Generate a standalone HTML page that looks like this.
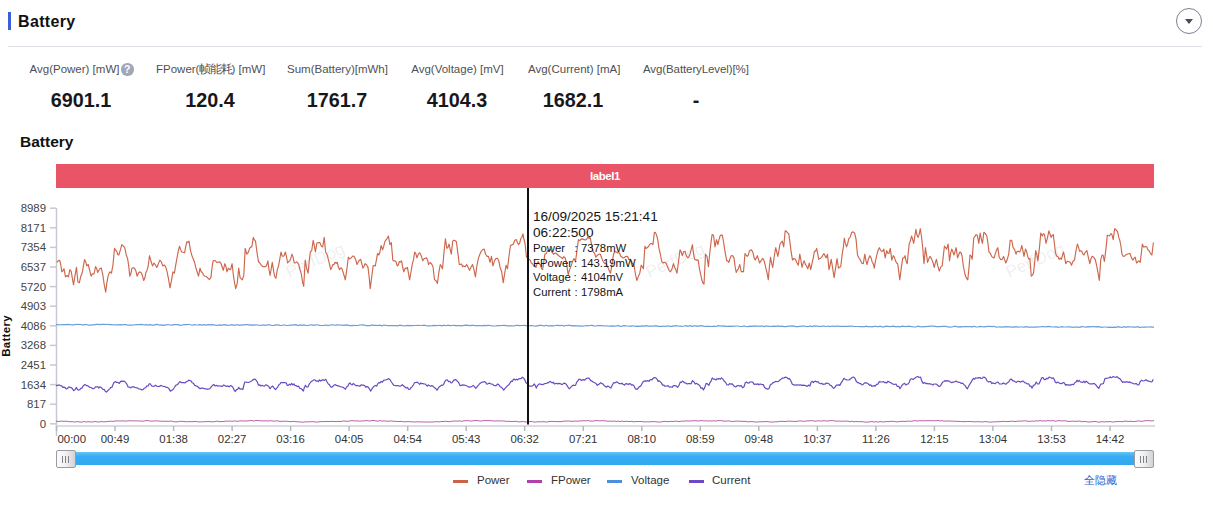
<!DOCTYPE html>
<html><head><meta charset="utf-8">
<style>
html,body{margin:0;padding:0;background:#fff;width:1213px;height:513px;overflow:hidden;position:relative;font-family:"Liberation Sans",sans-serif;}
.a{position:absolute;white-space:nowrap;}
.bar{left:8px;top:12px;width:3px;height:18px;background:#3a60d8;}
.t1{left:18px;top:12px;font-size:16px;font-weight:bold;color:#111114;line-height:20px;letter-spacing:0.35px;}
.hr{left:8px;top:46px;width:1194px;height:1px;background:#dfe0e8;}
.circ{left:1176px;top:8px;width:24px;height:24px;border:1px solid #7e8092;border-radius:50%;}
.tri{left:1185px;top:19px;width:0;height:0;border-left:4px solid transparent;border-right:4px solid transparent;border-top:5px solid #4a4b5c;}
.lab{top:62px;font-size:11.5px;color:#505053;line-height:14px;text-align:center;}
.val{top:88.5px;font-size:19.8px;font-weight:bold;color:#18181c;line-height:22px;text-align:center;}
.q{left:121px;top:63.3px;width:12.5px;height:12.5px;border-radius:50%;background:#a3a7b5;color:#fff;font-size:10.5px;font-weight:bold;line-height:12.5px;text-align:center;}
.t2{left:20px;top:132.5px;font-size:15.5px;font-weight:bold;color:#111;line-height:18px;letter-spacing:0px;}
.red{left:56px;top:164px;width:1098px;height:24px;background:#e95466;color:#fff;font-size:11.5px;font-weight:bold;letter-spacing:-0.45px;text-align:center;line-height:24px;}
svg{position:absolute;left:0;top:0;}
.yl{font-size:11.4px;fill:#444;}
.xl{font-size:11.4px;fill:#333;}
.wm{font-size:17px;fill:#000;fill-opacity:0.085;}
.tt{left:533px;color:#151515;}
.ttb{font-size:13.6px;line-height:16px;}
.tts{font-size:11.3px;line-height:14.8px;color:#151515;}
.sl{left:56px;top:452px;width:1098px;height:13px;background:linear-gradient(#66c3f6,#38acf2 35%,#30a8f0);}
.hd{top:450px;width:18px;height:16px;border:1px solid #9a9ca3;border-radius:2px;background:linear-gradient(90deg,#fbfbfb,#f2f2f2 45%,#d3d3d6);box-sizing:content-box;}
.hd i{position:absolute;top:4.5px;width:1.4px;height:7px;background:#80828a;}
.leg{top:473px;font-size:11.5px;color:#333;line-height:14px;}
.sw{top:479.5px;width:15px;height:3.5px;}
.hide{left:1084px;top:473px;font-size:11px;color:#2f60cc;line-height:14px;}
</style></head><body>
<div class="a bar"></div>
<div class="a t1">Battery</div>
<div class="a hr"></div>
<div class="a circ"></div>
<div class="a tri"></div>

<div class="a lab" style="left:29px;width:91px">Avg(Power) [mW]</div>
<div class="a q">?</div>
<div class="a lab" style="left:156px;width:107px">FPower(<span style="letter-spacing:-1.3px">帧能耗</span>) [mW]</div>
<div class="a lab" style="left:287px;width:100px">Sum(Battery)[mWh]</div>
<div class="a lab" style="left:411px;width:93px">Avg(Voltage) [mV]</div>
<div class="a lab" style="left:528px;width:92px">Avg(Current) [mA]</div>
<div class="a lab" style="left:643px;width:105px;letter-spacing:-0.1px">Avg(BatteryLevel)[%]</div>

<div class="a val" style="left:31px;width:100px">6901.1</div>
<div class="a val" style="left:160px;width:100px">120.4</div>
<div class="a val" style="left:287px;width:100px">1761.7</div>
<div class="a val" style="left:407px;width:100px">4104.3</div>
<div class="a val" style="left:523px;width:100px">1682.1</div>
<div class="a val" style="left:646px;width:100px">-</div>

<div class="a t2">Battery</div>
<div class="a red">label1</div>

<svg width="1213" height="513">
<line x1="56.5" y1="208" x2="56.5" y2="436" stroke="#c6c9d2" stroke-width="1.5"/>
<line x1="50" y1="208.2" x2="56" y2="208.2" stroke="#c6c9d2" stroke-width="1.5"/>
<text x="46" y="212.2" text-anchor="end" class="yl">8989</text>
<line x1="50" y1="227.8" x2="56" y2="227.8" stroke="#c6c9d2" stroke-width="1.5"/>
<text x="46" y="231.8" text-anchor="end" class="yl">8171</text>
<line x1="50" y1="247.4" x2="56" y2="247.4" stroke="#c6c9d2" stroke-width="1.5"/>
<text x="46" y="251.4" text-anchor="end" class="yl">7354</text>
<line x1="50" y1="267.0" x2="56" y2="267.0" stroke="#c6c9d2" stroke-width="1.5"/>
<text x="46" y="271.0" text-anchor="end" class="yl">6537</text>
<line x1="50" y1="286.6" x2="56" y2="286.6" stroke="#c6c9d2" stroke-width="1.5"/>
<text x="46" y="290.6" text-anchor="end" class="yl">5720</text>
<line x1="50" y1="306.2" x2="56" y2="306.2" stroke="#c6c9d2" stroke-width="1.5"/>
<text x="46" y="310.2" text-anchor="end" class="yl">4903</text>
<line x1="50" y1="325.8" x2="56" y2="325.8" stroke="#c6c9d2" stroke-width="1.5"/>
<text x="46" y="329.8" text-anchor="end" class="yl">4086</text>
<line x1="50" y1="345.4" x2="56" y2="345.4" stroke="#c6c9d2" stroke-width="1.5"/>
<text x="46" y="349.4" text-anchor="end" class="yl">3268</text>
<line x1="50" y1="365.0" x2="56" y2="365.0" stroke="#c6c9d2" stroke-width="1.5"/>
<text x="46" y="369.0" text-anchor="end" class="yl">2451</text>
<line x1="50" y1="384.6" x2="56" y2="384.6" stroke="#c6c9d2" stroke-width="1.5"/>
<text x="46" y="388.6" text-anchor="end" class="yl">1634</text>
<line x1="50" y1="404.2" x2="56" y2="404.2" stroke="#c6c9d2" stroke-width="1.5"/>
<text x="46" y="408.2" text-anchor="end" class="yl">817</text>
<line x1="50" y1="423.8" x2="56" y2="423.8" stroke="#c6c9d2" stroke-width="1.5"/>
<text x="46" y="427.8" text-anchor="end" class="yl">0</text>
<line x1="56" y1="426" x2="1155" y2="426" stroke="#cfd2d8" stroke-width="1.6"/>
<line x1="56.5" y1="426" x2="56.5" y2="431" stroke="#b4b8c0" stroke-width="1.5"/>
<text x="57.5" y="443" class="xl">00:00</text>
<line x1="115.0" y1="426" x2="115.0" y2="431" stroke="#b4b8c0" stroke-width="1.5"/>
<text x="115.0" y="443" text-anchor="middle" class="xl">00:49</text>
<line x1="173.6" y1="426" x2="173.6" y2="431" stroke="#b4b8c0" stroke-width="1.5"/>
<text x="173.6" y="443" text-anchor="middle" class="xl">01:38</text>
<line x1="232.1" y1="426" x2="232.1" y2="431" stroke="#b4b8c0" stroke-width="1.5"/>
<text x="232.1" y="443" text-anchor="middle" class="xl">02:27</text>
<line x1="290.6" y1="426" x2="290.6" y2="431" stroke="#b4b8c0" stroke-width="1.5"/>
<text x="290.6" y="443" text-anchor="middle" class="xl">03:16</text>
<line x1="349.1" y1="426" x2="349.1" y2="431" stroke="#b4b8c0" stroke-width="1.5"/>
<text x="349.1" y="443" text-anchor="middle" class="xl">04:05</text>
<line x1="407.7" y1="426" x2="407.7" y2="431" stroke="#b4b8c0" stroke-width="1.5"/>
<text x="407.7" y="443" text-anchor="middle" class="xl">04:54</text>
<line x1="466.2" y1="426" x2="466.2" y2="431" stroke="#b4b8c0" stroke-width="1.5"/>
<text x="466.2" y="443" text-anchor="middle" class="xl">05:43</text>
<line x1="524.7" y1="426" x2="524.7" y2="431" stroke="#b4b8c0" stroke-width="1.5"/>
<text x="524.7" y="443" text-anchor="middle" class="xl">06:32</text>
<line x1="583.2" y1="426" x2="583.2" y2="431" stroke="#b4b8c0" stroke-width="1.5"/>
<text x="583.2" y="443" text-anchor="middle" class="xl">07:21</text>
<line x1="641.8" y1="426" x2="641.8" y2="431" stroke="#b4b8c0" stroke-width="1.5"/>
<text x="641.8" y="443" text-anchor="middle" class="xl">08:10</text>
<line x1="700.3" y1="426" x2="700.3" y2="431" stroke="#b4b8c0" stroke-width="1.5"/>
<text x="700.3" y="443" text-anchor="middle" class="xl">08:59</text>
<line x1="758.8" y1="426" x2="758.8" y2="431" stroke="#b4b8c0" stroke-width="1.5"/>
<text x="758.8" y="443" text-anchor="middle" class="xl">09:48</text>
<line x1="817.4" y1="426" x2="817.4" y2="431" stroke="#b4b8c0" stroke-width="1.5"/>
<text x="817.4" y="443" text-anchor="middle" class="xl">10:37</text>
<line x1="875.9" y1="426" x2="875.9" y2="431" stroke="#b4b8c0" stroke-width="1.5"/>
<text x="875.9" y="443" text-anchor="middle" class="xl">11:26</text>
<line x1="934.4" y1="426" x2="934.4" y2="431" stroke="#b4b8c0" stroke-width="1.5"/>
<text x="934.4" y="443" text-anchor="middle" class="xl">12:15</text>
<line x1="992.9" y1="426" x2="992.9" y2="431" stroke="#b4b8c0" stroke-width="1.5"/>
<text x="992.9" y="443" text-anchor="middle" class="xl">13:04</text>
<line x1="1051.5" y1="426" x2="1051.5" y2="431" stroke="#b4b8c0" stroke-width="1.5"/>
<text x="1051.5" y="443" text-anchor="middle" class="xl">13:53</text>
<line x1="1110.0" y1="426" x2="1110.0" y2="431" stroke="#b4b8c0" stroke-width="1.5"/>
<text x="1110.0" y="443" text-anchor="middle" class="xl">14:42</text>
<text x="315" y="266" text-anchor="middle" transform="rotate(-24 315 260)" class="wm">PerfDog</text>
<text x="675" y="266" text-anchor="middle" transform="rotate(-24 675 260)" class="wm">PerfDog</text>
<text x="1035" y="266" text-anchor="middle" transform="rotate(-24 1035 260)" class="wm">PerfDog</text>
<path d="M56.0,421.1 L58.0,421.5 L60.0,421.3 L62.0,421.1 L64.0,421.3 L66.0,421.2 L68.0,421.4 L70.0,421.8 L72.0,421.6 L74.0,422.0 L76.0,421.9 L78.0,421.5 L80.0,422.1 L82.0,422.1 L84.0,421.5 L86.0,422.1 L88.0,421.7 L90.0,421.8 L92.0,422.1 L94.0,421.5 L96.0,421.7 L98.0,422.0 L100.0,421.8 L102.0,421.6 L104.0,421.9 L106.0,421.7 L108.0,421.5 L110.0,421.1 L112.0,421.4 L114.0,421.2 L116.0,421.0 L118.0,420.8 L120.0,421.1 L122.0,420.8 L124.0,421.0 L126.0,421.1 L128.0,420.9 L130.0,420.7 L132.0,420.9 L134.0,420.8 L136.0,421.0 L138.0,420.8 L140.0,421.1 L142.0,421.1 L144.0,421.0 L146.0,420.6 L148.0,420.6 L150.0,421.1 L152.0,421.1 L154.0,421.0 L156.0,420.9 L158.0,420.9 L160.0,421.2 L162.0,421.2 L164.0,421.2 L166.0,421.3 L168.0,421.4 L170.0,421.1 L172.0,421.2 L174.0,421.8 L176.0,421.8 L178.0,421.8 L180.0,421.3 L182.0,421.3 L184.0,421.5 L186.0,421.7 L188.0,421.8 L190.0,421.5 L192.0,421.8 L194.0,421.5 L196.0,421.5 L198.0,421.9 L200.0,421.8 L202.0,421.9 L204.0,421.7 L206.0,421.7 L208.0,421.5 L210.0,421.6 L212.0,421.8 L214.0,421.8 L216.0,421.3 L218.0,421.2 L220.0,421.7 L222.0,421.5 L224.0,421.5 L226.0,421.1 L228.0,421.2 L230.0,421.0 L232.0,421.3 L234.0,421.0 L236.0,421.1 L238.0,421.3 L240.0,420.8 L242.0,420.9 L244.0,421.0 L246.0,421.1 L248.0,420.8 L250.0,420.7 L252.0,420.5 L254.0,421.1 L256.0,420.5 L258.0,420.5 L260.0,420.9 L262.0,420.8 L264.0,421.0 L266.0,420.8 L268.0,421.1 L270.0,420.7 L272.0,420.8 L274.0,421.2 L276.0,420.8 L278.0,421.0 L280.0,421.4 L282.0,421.4 L284.0,421.2 L286.0,421.2 L288.0,421.4 L290.0,421.7 L292.0,421.5 L294.0,421.3 L296.0,421.8 L298.0,421.7 L300.0,422.0 L302.0,422.1 L304.0,422.1 L306.0,421.7 L308.0,422.0 L310.0,421.7 L312.0,421.7 L314.0,421.7 L316.0,422.1 L318.0,422.0 L320.0,421.6 L322.0,421.6 L324.0,421.6 L326.0,421.5 L328.0,421.5 L330.0,421.5 L332.0,421.3 L334.0,421.5 L336.0,421.6 L338.0,421.3 L340.0,421.5 L342.0,421.3 L344.0,420.9 L346.0,421.3 L348.0,421.3 L350.0,420.9 L352.0,420.6 L354.0,420.9 L356.0,420.9 L358.0,420.9 L360.0,421.2 L362.0,420.9 L364.0,421.0 L366.0,420.5 L368.0,420.8 L370.0,421.0 L372.0,420.5 L374.0,420.5 L376.0,421.0 L378.0,421.2 L380.0,420.6 L382.0,421.1 L384.0,420.8 L386.0,421.2 L388.0,421.2 L390.0,421.0 L392.0,421.0 L394.0,421.4 L396.0,421.3 L398.0,421.6 L400.0,421.4 L402.0,421.4 L404.0,421.9 L406.0,421.7 L408.0,421.6 L410.0,421.7 L412.0,421.9 L414.0,421.9 L416.0,422.0 L418.0,421.7 L420.0,422.0 L422.0,421.9 L424.0,422.0 L426.0,422.0 L428.0,422.0 L430.0,422.0 L432.0,422.1 L434.0,421.8 L436.0,421.7 L438.0,421.8 L440.0,421.8 L442.0,421.5 L444.0,421.5 L446.0,421.2 L448.0,421.6 L450.0,421.7 L452.0,421.2 L454.0,421.0 L456.0,421.0 L458.0,421.1 L460.0,420.9 L462.0,421.4 L464.0,420.7 L466.0,420.8 L468.0,420.6 L470.0,421.0 L472.0,421.0 L474.0,420.6 L476.0,420.5 L478.0,420.8 L480.0,420.9 L482.0,421.1 L484.0,420.5 L486.0,420.6 L488.0,420.6 L490.0,420.7 L492.0,420.7 L494.0,421.1 L496.0,421.0 L498.0,420.8 L500.0,420.9 L502.0,421.0 L504.0,421.0 L506.0,421.4 L508.0,421.2 L510.0,421.4 L512.0,421.6 L514.0,421.4 L516.0,421.3 L518.0,421.8 L520.0,421.9 L522.0,421.5 L524.0,421.7 L526.0,422.0 L528.0,421.7 L530.0,421.6 L532.0,421.5 L534.0,422.1 L536.0,422.0 L538.0,421.7 L540.0,421.8 L542.0,421.8 L544.0,421.6 L546.0,422.1 L548.0,421.8 L550.0,421.5 L552.0,421.3 L554.0,421.6 L556.0,421.4 L558.0,421.7 L560.0,421.6 L562.0,421.5 L564.0,421.1 L566.0,421.0 L568.0,421.1 L570.0,421.0 L572.0,421.4 L574.0,421.1 L576.0,421.1 L578.0,421.3 L580.0,420.8 L582.0,420.9 L584.0,420.6 L586.0,421.0 L588.0,420.5 L590.0,421.0 L592.0,421.0 L594.0,421.0 L596.0,420.5 L598.0,420.7 L600.0,421.0 L602.0,420.6 L604.0,420.9 L606.0,420.9 L608.0,421.3 L610.0,421.1 L612.0,421.3 L614.0,421.0 L616.0,421.4 L618.0,421.1 L620.0,421.6 L622.0,421.0 L624.0,421.6 L626.0,421.2 L628.0,421.5 L630.0,421.5 L632.0,421.3 L634.0,421.9 L636.0,421.5 L638.0,421.6 L640.0,421.4 L642.0,421.6 L644.0,421.8 L646.0,421.9 L648.0,421.7 L650.0,421.9 L652.0,421.5 L654.0,421.7 L656.0,421.7 L658.0,422.1 L660.0,422.0 L662.0,421.8 L664.0,421.3 L666.0,421.5 L668.0,421.7 L670.0,421.3 L672.0,421.5 L674.0,421.4 L676.0,421.0 L678.0,421.6 L680.0,421.5 L682.0,421.0 L684.0,421.2 L686.0,420.9 L688.0,421.0 L690.0,421.0 L692.0,420.8 L694.0,420.8 L696.0,420.8 L698.0,421.0 L700.0,420.7 L702.0,420.6 L704.0,421.0 L706.0,420.7 L708.0,421.1 L710.0,420.9 L712.0,421.0 L714.0,420.7 L716.0,421.1 L718.0,420.6 L720.0,420.7 L722.0,420.7 L724.0,421.1 L726.0,421.2 L728.0,420.9 L730.0,421.1 L732.0,421.5 L734.0,421.3 L736.0,421.1 L738.0,421.2 L740.0,421.2 L742.0,421.2 L744.0,421.5 L746.0,421.3 L748.0,421.9 L750.0,421.6 L752.0,421.7 L754.0,421.8 L756.0,422.0 L758.0,422.0 L760.0,421.7 L762.0,421.7 L764.0,421.7 L766.0,421.5 L768.0,421.7 L770.0,421.9 L772.0,422.1 L774.0,421.9 L776.0,421.8 L778.0,421.7 L780.0,421.3 L782.0,421.4 L784.0,421.4 L786.0,421.5 L788.0,421.1 L790.0,421.2 L792.0,421.3 L794.0,421.4 L796.0,421.4 L798.0,421.2 L800.0,420.8 L802.0,421.2 L804.0,421.3 L806.0,421.0 L808.0,420.8 L810.0,420.9 L812.0,420.6 L814.0,421.0 L816.0,421.1 L818.0,420.8 L820.0,421.0 L822.0,421.0 L824.0,420.6 L826.0,421.1 L828.0,420.9 L830.0,420.7 L832.0,420.6 L834.0,420.8 L836.0,421.1 L838.0,421.2 L840.0,421.0 L842.0,421.4 L844.0,421.1 L846.0,421.2 L848.0,421.0 L850.0,421.7 L852.0,421.2 L854.0,421.8 L856.0,421.6 L858.0,421.6 L860.0,421.7 L862.0,421.5 L864.0,422.0 L866.0,422.1 L868.0,422.0 L870.0,421.8 L872.0,421.5 L874.0,422.0 L876.0,421.7 L878.0,422.1 L880.0,421.6 L882.0,421.8 L884.0,422.0 L886.0,421.5 L888.0,421.7 L890.0,421.4 L892.0,421.3 L894.0,421.3 L896.0,421.9 L898.0,421.8 L900.0,421.5 L902.0,421.2 L904.0,421.4 L906.0,421.4 L908.0,421.1 L910.0,421.2 L912.0,421.3 L914.0,420.7 L916.0,420.8 L918.0,420.9 L920.0,420.7 L922.0,420.8 L924.0,420.9 L926.0,420.6 L928.0,420.8 L930.0,420.6 L932.0,420.8 L934.0,420.7 L936.0,420.9 L938.0,420.5 L940.0,421.0 L942.0,420.6 L944.0,421.2 L946.0,421.0 L948.0,421.0 L950.0,421.0 L952.0,421.2 L954.0,421.2 L956.0,421.3 L958.0,421.4 L960.0,421.3 L962.0,421.7 L964.0,421.6 L966.0,421.7 L968.0,421.4 L970.0,421.5 L972.0,421.6 L974.0,421.9 L976.0,421.7 L978.0,421.7 L980.0,421.7 L982.0,422.0 L984.0,421.7 L986.0,421.5 L988.0,422.0 L990.0,422.1 L992.0,422.0 L994.0,421.8 L996.0,421.9 L998.0,421.6 L1000.0,421.8 L1002.0,421.4 L1004.0,421.4 L1006.0,421.6 L1008.0,421.5 L1010.0,421.4 L1012.0,421.1 L1014.0,421.5 L1016.0,421.4 L1018.0,421.1 L1020.0,421.1 L1022.0,421.1 L1024.0,420.9 L1026.0,420.8 L1028.0,421.3 L1030.0,421.3 L1032.0,421.1 L1034.0,421.2 L1036.0,420.8 L1038.0,421.1 L1040.0,420.6 L1042.0,421.0 L1044.0,420.8 L1046.0,421.1 L1048.0,420.5 L1050.0,421.0 L1052.0,420.6 L1054.0,420.9 L1056.0,421.2 L1058.0,420.6 L1060.0,420.8 L1062.0,420.9 L1064.0,420.9 L1066.0,420.8 L1068.0,421.4 L1070.0,421.4 L1072.0,421.2 L1074.0,421.2 L1076.0,421.4 L1078.0,421.1 L1080.0,421.1 L1082.0,421.8 L1084.0,421.4 L1086.0,421.6 L1088.0,422.0 L1090.0,422.0 L1092.0,421.7 L1094.0,421.5 L1096.0,421.6 L1098.0,422.1 L1100.0,422.1 L1102.0,421.6 L1104.0,422.0 L1106.0,421.7 L1108.0,421.8 L1110.0,421.5 L1112.0,422.0 L1114.0,422.0 L1116.0,421.5 L1118.0,421.7 L1120.0,421.4 L1122.0,421.8 L1124.0,421.2 L1126.0,421.1 L1128.0,421.5 L1130.0,421.2 L1132.0,421.5 L1134.0,421.5 L1136.0,421.3 L1138.0,420.8 L1140.0,421.2 L1142.0,421.3 L1144.0,420.9 L1146.0,420.6 L1148.0,420.7 L1150.0,420.7 L1152.0,421.0 L1154.0,420.6" fill="none" stroke="#b963aa" stroke-width="1"/>
<path d="M56.0,324.6 L58.0,324.7 L60.0,325.0 L62.0,324.6 L64.0,324.6 L66.0,324.7 L68.0,324.3 L70.0,324.6 L72.0,324.8 L74.0,324.9 L76.0,324.3 L78.0,324.5 L80.0,324.3 L82.0,324.9 L84.0,324.8 L86.0,324.3 L88.0,325.1 L90.0,325.1 L92.0,324.8 L94.0,324.8 L96.0,324.4 L98.0,324.3 L100.0,324.7 L102.0,324.3 L104.0,324.4 L106.0,324.5 L108.0,324.3 L110.0,324.7 L112.0,324.7 L114.0,325.0 L116.0,324.8 L118.0,324.9 L120.0,324.7 L122.0,324.9 L124.0,324.7 L126.0,324.6 L128.0,325.2 L130.0,325.2 L132.0,325.1 L134.0,325.0 L136.0,324.6 L138.0,324.5 L140.0,324.6 L142.0,324.4 L144.0,325.0 L146.0,324.7 L148.0,325.1 L150.0,324.7 L152.0,325.2 L154.0,325.1 L156.0,324.4 L158.0,324.6 L160.0,325.2 L162.0,324.8 L164.0,325.3 L166.0,324.8 L168.0,324.5 L170.0,325.0 L172.0,325.1 L174.0,324.7 L176.0,324.5 L178.0,324.7 L180.0,325.3 L182.0,325.1 L184.0,324.5 L186.0,324.7 L188.0,324.5 L190.0,324.5 L192.0,325.2 L194.0,324.6 L196.0,325.0 L198.0,324.9 L200.0,324.6 L202.0,325.1 L204.0,324.6 L206.0,325.1 L208.0,324.6 L210.0,324.9 L212.0,324.7 L214.0,324.8 L216.0,325.4 L218.0,325.2 L220.0,324.8 L222.0,325.3 L224.0,324.7 L226.0,324.9 L228.0,325.3 L230.0,325.1 L232.0,324.6 L234.0,325.4 L236.0,324.8 L238.0,324.8 L240.0,325.3 L242.0,324.9 L244.0,324.8 L246.0,324.6 L248.0,324.7 L250.0,325.1 L252.0,324.8 L254.0,325.1 L256.0,324.9 L258.0,325.0 L260.0,325.5 L262.0,325.1 L264.0,325.1 L266.0,325.4 L268.0,324.8 L270.0,324.8 L272.0,325.5 L274.0,325.4 L276.0,324.9 L278.0,324.8 L280.0,325.3 L282.0,325.5 L284.0,324.8 L286.0,325.5 L288.0,325.5 L290.0,325.2 L292.0,325.1 L294.0,324.8 L296.0,324.7 L298.0,325.6 L300.0,324.9 L302.0,325.3 L304.0,324.9 L306.0,325.5 L308.0,325.3 L310.0,325.0 L312.0,324.9 L314.0,325.4 L316.0,324.8 L318.0,325.0 L320.0,325.3 L322.0,325.5 L324.0,325.3 L326.0,325.0 L328.0,325.6 L330.0,325.0 L332.0,324.8 L334.0,325.0 L336.0,325.2 L338.0,324.8 L340.0,325.0 L342.0,325.1 L344.0,325.3 L346.0,324.9 L348.0,325.1 L350.0,325.6 L352.0,325.7 L354.0,325.4 L356.0,325.5 L358.0,325.4 L360.0,325.0 L362.0,324.9 L364.0,324.9 L366.0,325.7 L368.0,325.5 L370.0,325.7 L372.0,324.9 L374.0,325.4 L376.0,325.3 L378.0,325.5 L380.0,325.2 L382.0,325.8 L384.0,325.0 L386.0,325.4 L388.0,325.6 L390.0,325.7 L392.0,325.6 L394.0,325.6 L396.0,325.6 L398.0,325.8 L400.0,325.2 L402.0,325.6 L404.0,325.8 L406.0,325.7 L408.0,325.3 L410.0,325.7 L412.0,325.7 L414.0,325.5 L416.0,325.5 L418.0,325.3 L420.0,325.5 L422.0,325.5 L424.0,325.1 L426.0,325.6 L428.0,325.9 L430.0,325.8 L432.0,325.7 L434.0,325.4 L436.0,325.7 L438.0,325.5 L440.0,325.4 L442.0,325.8 L444.0,325.1 L446.0,325.7 L448.0,325.1 L450.0,325.6 L452.0,325.5 L454.0,325.3 L456.0,325.7 L458.0,325.5 L460.0,325.6 L462.0,325.9 L464.0,325.3 L466.0,325.1 L468.0,325.4 L470.0,325.7 L472.0,325.3 L474.0,325.3 L476.0,325.9 L478.0,325.7 L480.0,325.5 L482.0,325.9 L484.0,325.4 L486.0,325.7 L488.0,325.3 L490.0,325.5 L492.0,325.9 L494.0,326.0 L496.0,325.9 L498.0,325.5 L500.0,325.7 L502.0,325.5 L504.0,325.3 L506.0,325.6 L508.0,325.9 L510.0,325.9 L512.0,325.8 L514.0,326.0 L516.0,325.4 L518.0,325.4 L520.0,325.6 L522.0,325.5 L524.0,325.4 L526.0,325.6 L528.0,325.8 L530.0,325.7 L532.0,325.5 L534.0,326.0 L536.0,326.1 L538.0,325.7 L540.0,325.3 L542.0,325.3 L544.0,326.0 L546.0,325.3 L548.0,325.9 L550.0,325.8 L552.0,325.6 L554.0,326.0 L556.0,325.3 L558.0,325.4 L560.0,325.7 L562.0,325.3 L564.0,326.1 L566.0,325.5 L568.0,325.4 L570.0,325.4 L572.0,325.9 L574.0,325.7 L576.0,325.9 L578.0,325.9 L580.0,326.1 L582.0,326.2 L584.0,326.0 L586.0,325.5 L588.0,325.8 L590.0,325.5 L592.0,325.4 L594.0,325.8 L596.0,326.0 L598.0,325.5 L600.0,325.6 L602.0,325.7 L604.0,326.0 L606.0,325.9 L608.0,326.0 L610.0,326.1 L612.0,325.8 L614.0,326.1 L616.0,326.2 L618.0,325.5 L620.0,326.3 L622.0,326.1 L624.0,325.6 L626.0,325.9 L628.0,326.0 L630.0,326.3 L632.0,325.8 L634.0,326.0 L636.0,326.3 L638.0,326.2 L640.0,326.3 L642.0,325.9 L644.0,326.1 L646.0,325.7 L648.0,326.1 L650.0,326.2 L652.0,326.1 L654.0,326.2 L656.0,325.7 L658.0,326.3 L660.0,326.4 L662.0,326.4 L664.0,326.0 L666.0,326.3 L668.0,325.8 L670.0,326.4 L672.0,326.3 L674.0,325.9 L676.0,325.6 L678.0,326.0 L680.0,326.1 L682.0,326.3 L684.0,326.0 L686.0,325.6 L688.0,326.3 L690.0,325.7 L692.0,326.3 L694.0,325.8 L696.0,325.9 L698.0,326.3 L700.0,325.7 L702.0,325.8 L704.0,326.1 L706.0,326.3 L708.0,326.4 L710.0,326.3 L712.0,326.5 L714.0,326.1 L716.0,326.5 L718.0,325.7 L720.0,325.9 L722.0,326.1 L724.0,325.9 L726.0,326.3 L728.0,326.3 L730.0,326.2 L732.0,326.4 L734.0,326.2 L736.0,326.0 L738.0,326.0 L740.0,326.5 L742.0,326.5 L744.0,325.9 L746.0,326.5 L748.0,326.6 L750.0,326.2 L752.0,326.3 L754.0,325.9 L756.0,326.2 L758.0,326.2 L760.0,326.3 L762.0,325.8 L764.0,326.6 L766.0,326.2 L768.0,326.1 L770.0,326.5 L772.0,326.3 L774.0,326.2 L776.0,326.4 L778.0,325.9 L780.0,326.3 L782.0,326.2 L784.0,326.7 L786.0,326.6 L788.0,326.1 L790.0,326.2 L792.0,325.9 L794.0,326.2 L796.0,326.6 L798.0,326.6 L800.0,326.3 L802.0,326.1 L804.0,326.0 L806.0,326.4 L808.0,326.7 L810.0,326.0 L812.0,326.6 L814.0,325.9 L816.0,326.1 L818.0,326.1 L820.0,326.5 L822.0,326.2 L824.0,326.2 L826.0,326.5 L828.0,326.0 L830.0,326.6 L832.0,326.0 L834.0,326.4 L836.0,326.2 L838.0,326.1 L840.0,326.4 L842.0,326.3 L844.0,326.3 L846.0,326.3 L848.0,326.4 L850.0,326.1 L852.0,326.1 L854.0,326.5 L856.0,326.5 L858.0,326.5 L860.0,326.7 L862.0,326.5 L864.0,326.8 L866.0,326.2 L868.0,326.7 L870.0,326.7 L872.0,326.8 L874.0,326.3 L876.0,326.3 L878.0,326.9 L880.0,326.2 L882.0,326.9 L884.0,326.8 L886.0,326.2 L888.0,326.3 L890.0,326.7 L892.0,326.3 L894.0,326.1 L896.0,326.8 L898.0,326.4 L900.0,326.8 L902.0,326.2 L904.0,326.4 L906.0,326.7 L908.0,326.1 L910.0,326.3 L912.0,326.7 L914.0,326.9 L916.0,327.0 L918.0,326.2 L920.0,326.6 L922.0,326.8 L924.0,326.6 L926.0,326.7 L928.0,326.3 L930.0,326.2 L932.0,326.2 L934.0,326.2 L936.0,326.7 L938.0,326.6 L940.0,326.7 L942.0,326.3 L944.0,326.3 L946.0,326.4 L948.0,326.9 L950.0,327.1 L952.0,327.0 L954.0,326.3 L956.0,326.3 L958.0,327.1 L960.0,326.6 L962.0,326.9 L964.0,326.5 L966.0,326.6 L968.0,326.7 L970.0,326.6 L972.0,326.8 L974.0,326.3 L976.0,326.9 L978.0,327.0 L980.0,326.4 L982.0,326.7 L984.0,326.9 L986.0,326.6 L988.0,326.4 L990.0,326.4 L992.0,326.7 L994.0,326.3 L996.0,327.1 L998.0,327.0 L1000.0,326.9 L1002.0,327.1 L1004.0,326.9 L1006.0,326.7 L1008.0,326.9 L1010.0,326.8 L1012.0,327.2 L1014.0,327.1 L1016.0,326.6 L1018.0,327.2 L1020.0,327.0 L1022.0,327.0 L1024.0,327.1 L1026.0,326.7 L1028.0,327.2 L1030.0,327.2 L1032.0,327.0 L1034.0,327.1 L1036.0,327.1 L1038.0,326.8 L1040.0,327.0 L1042.0,326.5 L1044.0,326.7 L1046.0,326.8 L1048.0,326.4 L1050.0,326.7 L1052.0,327.0 L1054.0,327.0 L1056.0,326.6 L1058.0,327.3 L1060.0,327.0 L1062.0,326.7 L1064.0,327.0 L1066.0,327.0 L1068.0,326.9 L1070.0,326.8 L1072.0,327.4 L1074.0,327.0 L1076.0,327.1 L1078.0,327.2 L1080.0,327.4 L1082.0,326.5 L1084.0,327.0 L1086.0,327.2 L1088.0,326.7 L1090.0,326.9 L1092.0,326.6 L1094.0,326.7 L1096.0,326.9 L1098.0,326.6 L1100.0,326.8 L1102.0,327.3 L1104.0,327.0 L1106.0,327.0 L1108.0,327.4 L1110.0,327.1 L1112.0,327.4 L1114.0,327.1 L1116.0,327.3 L1118.0,326.6 L1120.0,327.1 L1122.0,327.3 L1124.0,326.6 L1126.0,327.4 L1128.0,326.7 L1130.0,327.0 L1132.0,326.8 L1134.0,327.1 L1136.0,327.2 L1138.0,326.7 L1140.0,327.5 L1142.0,327.0 L1144.0,327.1 L1146.0,327.2 L1148.0,327.0 L1150.0,326.9 L1152.0,327.2 L1154.0,327.2" fill="none" stroke="#6c9fd8" stroke-width="1.2"/>
<path d="M56.0,385.4 L57.1,385.6 L58.3,385.0 L59.4,385.1 L60.5,385.6 L61.7,385.8 L62.8,387.4 L63.9,387.2 L65.1,387.5 L66.2,388.8 L67.3,388.7 L68.5,387.2 L69.6,387.2 L71.0,387.6 L72.3,388.6 L73.7,390.6 L75.0,389.7 L76.4,387.4 L77.4,389.6 L78.4,390.2 L79.6,389.8 L80.7,388.4 L81.9,388.1 L83.2,385.9 L84.6,384.7 L85.7,384.9 L86.7,385.7 L87.8,385.7 L88.9,386.8 L90.0,387.4 L91.0,387.5 L92.1,388.4 L93.2,388.8 L94.3,388.3 L95.5,386.8 L96.5,387.0 L97.6,386.5 L98.7,388.1 L99.8,386.9 L100.9,387.4 L101.9,388.2 L102.9,389.5 L104.1,389.4 L105.2,391.1 L106.3,392.2 L107.5,391.0 L108.6,389.9 L109.7,388.8 L110.8,387.5 L111.8,387.4 L112.8,385.1 L113.8,382.7 L115.2,381.6 L116.5,382.4 L117.9,382.4 L119.3,383.4 L120.6,381.4 L122.0,381.1 L123.1,381.3 L124.3,381.0 L125.4,382.4 L126.7,383.8 L128.1,387.0 L129.5,387.1 L130.8,387.9 L132.2,386.8 L133.6,386.8 L134.9,387.4 L136.3,387.7 L137.6,388.1 L138.7,388.9 L139.8,389.0 L140.9,389.4 L142.0,390.0 L143.1,389.5 L144.4,388.2 L145.8,387.4 L146.9,385.9 L148.1,386.0 L149.2,383.8 L150.3,383.8 L151.5,385.8 L152.6,386.1 L154.0,386.4 L155.3,385.2 L156.7,386.1 L158.0,386.5 L159.4,386.4 L160.8,385.4 L162.1,386.0 L163.5,386.5 L164.8,386.4 L166.2,387.5 L167.6,387.4 L168.9,388.6 L170.3,391.1 L171.6,390.4 L173.0,389.5 L174.4,387.5 L175.7,385.4 L177.1,384.8 L178.4,383.5 L179.8,381.6 L181.2,382.6 L182.5,382.5 L183.9,382.7 L185.1,382.9 L186.3,381.8 L187.5,381.2 L188.7,380.2 L189.8,380.5 L190.9,380.9 L192.1,382.7 L193.4,383.3 L194.8,385.4 L196.1,385.9 L197.5,386.3 L198.9,387.9 L200.2,388.6 L201.6,388.2 L202.9,388.1 L204.3,388.7 L205.7,388.8 L207.0,389.1 L208.4,389.2 L209.7,388.8 L211.1,387.1 L212.5,385.4 L213.8,384.4 L215.2,386.0 L216.5,385.4 L217.7,386.1 L218.8,385.8 L219.9,386.0 L221.0,386.1 L222.4,386.3 L223.7,384.9 L225.1,385.7 L226.4,386.5 L227.8,385.9 L229.2,386.8 L230.5,385.6 L231.9,386.1 L233.0,387.4 L234.2,390.2 L235.3,391.5 L236.4,389.6 L237.6,389.3 L238.7,387.4 L240.0,389.1 L241.4,388.8 L242.8,389.5 L243.8,385.5 L244.8,382.0 L246.0,382.0 L247.2,382.4 L248.4,382.5 L249.6,382.0 L250.9,381.3 L252.3,380.5 L253.7,379.3 L255.0,379.1 L256.4,380.6 L257.4,382.2 L258.4,385.1 L259.6,384.8 L260.9,386.0 L262.1,385.3 L263.3,386.0 L264.5,386.1 L265.9,384.8 L267.3,385.4 L268.6,386.2 L270.0,388.8 L271.3,387.0 L272.7,386.1 L274.1,388.1 L275.4,389.5 L276.5,388.5 L277.6,387.1 L278.7,385.0 L279.8,384.1 L280.9,382.7 L282.2,382.6 L283.6,382.6 L284.9,382.7 L286.1,382.8 L287.2,385.3 L288.3,385.4 L289.5,384.1 L290.6,385.0 L291.7,383.4 L292.9,385.0 L294.0,383.9 L295.1,385.7 L296.3,385.7 L297.4,386.6 L298.6,386.1 L299.7,388.3 L300.9,388.5 L302.1,389.4 L303.3,391.1 L304.3,387.7 L305.4,385.4 L306.7,387.0 L308.1,386.8 L309.4,383.8 L310.8,382.0 L312.2,381.1 L313.5,380.0 L314.9,379.8 L316.2,381.1 L317.3,380.9 L318.4,381.6 L319.5,379.8 L320.6,381.0 L321.7,380.2 L323.0,379.9 L324.4,380.4 L325.8,379.3 L327.1,382.0 L328.3,384.0 L329.4,384.6 L330.5,386.8 L331.7,387.3 L333.0,386.2 L334.2,385.0 L335.4,384.7 L336.6,385.4 L338.0,385.8 L339.4,386.2 L340.7,386.8 L341.9,387.0 L343.1,387.3 L344.3,388.3 L345.5,389.2 L346.6,387.0 L347.8,386.3 L348.9,383.8 L350.0,382.9 L351.1,384.5 L352.2,384.8 L353.2,383.5 L354.3,384.3 L355.7,385.6 L357.1,385.7 L358.4,385.7 L359.8,386.3 L361.1,384.9 L362.5,385.1 L363.6,385.2 L364.7,385.6 L365.8,387.1 L366.9,386.6 L367.9,386.8 L369.3,388.7 L370.7,391.1 L372.0,388.8 L373.4,386.8 L374.5,386.1 L375.6,385.4 L376.8,386.1 L377.8,383.6 L378.8,382.7 L380.0,382.9 L381.2,381.4 L382.4,382.2 L383.6,380.4 L384.8,380.0 L386.0,380.0 L387.4,379.3 L388.7,378.6 L390.1,379.8 L391.4,382.0 L392.8,384.0 L393.9,385.3 L395.0,385.5 L396.1,385.7 L397.2,385.6 L398.2,385.7 L399.6,386.2 L401.0,385.9 L402.3,384.7 L403.7,386.0 L405.0,387.0 L406.2,388.1 L407.4,387.4 L408.6,389.3 L409.8,389.5 L411.0,387.7 L412.2,386.6 L413.4,384.7 L414.6,382.7 L415.9,382.5 L417.3,382.2 L418.7,383.4 L419.7,384.4 L420.8,382.9 L421.9,383.7 L423.0,383.6 L424.1,384.0 L425.2,384.0 L426.3,385.2 L427.4,386.0 L428.4,384.9 L429.5,385.7 L430.7,386.1 L431.8,385.6 L432.9,386.1 L434.3,387.6 L435.7,388.6 L437.0,390.2 L438.2,388.1 L439.3,386.8 L440.4,386.1 L441.4,385.2 L442.5,385.4 L443.6,384.4 L444.7,381.8 L445.9,380.0 L447.2,379.9 L448.6,381.7 L449.9,381.3 L451.0,383.0 L452.0,382.7 L453.0,381.2 L454.0,380.0 L455.4,379.6 L456.7,380.6 L457.9,381.7 L459.0,383.2 L460.1,385.7 L461.4,385.4 L462.6,384.9 L463.8,385.2 L465.0,385.2 L466.3,385.7 L467.6,386.2 L469.0,387.2 L470.4,386.8 L471.7,386.6 L473.1,385.4 L474.4,386.7 L475.8,388.4 L477.2,386.6 L478.5,385.1 L479.9,383.4 L481.0,382.7 L482.1,382.1 L483.3,382.0 L484.5,381.6 L485.7,382.4 L486.9,384.3 L488.0,383.8 L489.4,383.1 L490.8,384.0 L492.1,384.0 L493.5,385.1 L494.8,385.7 L496.2,385.6 L497.6,384.0 L498.9,384.8 L500.3,386.8 L501.4,387.4 L502.6,388.5 L503.7,390.2 L504.8,388.6 L506.0,387.3 L507.1,386.1 L508.4,385.3 L509.8,383.4 L511.2,381.1 L512.3,381.4 L513.3,379.4 L514.4,379.1 L515.5,380.1 L516.6,379.3 L517.7,379.9 L518.9,378.8 L520.0,378.6 L521.1,378.6 L522.3,377.2 L523.4,377.9 L524.8,379.7 L526.1,382.9 L527.5,384.0 L528.9,385.7 L530.2,386.1 L531.6,386.1 L532.9,385.7 L534.3,384.0 L535.3,385.6 L536.3,388.1 L537.4,385.6 L538.4,384.7 L539.5,383.8 L540.7,384.3 L541.8,384.3 L543.0,384.6 L544.1,383.9 L545.3,383.5 L546.4,383.5 L547.6,382.7 L548.7,382.6 L549.9,381.3 L551.0,382.0 L552.1,382.9 L553.3,382.2 L554.4,383.9 L555.5,383.7 L556.7,383.3 L557.8,384.0 L559.0,383.3 L560.1,383.6 L561.3,384.3 L562.5,384.4 L563.6,383.3 L564.8,383.2 L566.0,384.0 L567.1,385.7 L568.2,387.4 L569.4,388.8 L570.7,387.4 L572.1,385.8 L573.4,385.1 L574.5,385.5 L575.5,385.4 L576.6,382.4 L577.8,380.9 L578.9,379.3 L580.1,379.3 L581.3,380.4 L582.5,379.9 L583.7,379.7 L584.7,380.2 L585.8,379.0 L586.9,378.3 L588.0,378.0 L589.1,378.2 L590.5,380.4 L591.8,381.1 L593.2,382.0 L594.5,382.8 L595.9,383.3 L597.3,385.4 L598.4,384.5 L599.5,383.9 L600.7,382.7 L601.8,383.4 L602.9,384.0 L604.1,385.4 L605.2,386.2 L606.3,387.2 L607.5,386.2 L608.6,386.3 L609.7,387.4 L610.9,388.1 L612.2,385.2 L613.6,382.7 L614.9,383.0 L616.3,381.9 L617.7,382.4 L618.8,383.4 L619.8,383.7 L620.9,383.6 L622.0,383.3 L623.1,384.3 L624.5,385.1 L625.8,383.6 L627.2,383.8 L628.3,384.6 L629.4,383.6 L630.5,383.8 L631.5,385.1 L632.6,384.7 L634.0,385.9 L635.4,388.8 L636.7,389.5 L638.1,388.3 L639.4,386.6 L640.8,386.1 L642.2,383.2 L643.5,381.3 L644.9,380.9 L646.2,381.2 L647.6,380.6 L649.0,381.3 L650.3,379.5 L651.7,380.0 L653.0,378.5 L654.4,377.5 L655.8,377.8 L657.1,379.3 L658.2,381.4 L659.3,380.9 L660.4,381.9 L661.5,383.1 L662.6,385.1 L663.7,385.0 L664.7,386.2 L665.8,386.2 L666.9,386.0 L668.0,385.7 L669.4,387.2 L670.7,386.8 L672.1,387.3 L673.4,385.7 L674.8,385.7 L676.2,385.9 L677.5,387.4 L678.9,385.6 L680.3,382.0 L681.4,382.5 L682.5,381.1 L683.7,382.0 L684.8,383.0 L685.9,383.1 L687.1,384.0 L688.4,383.7 L689.8,383.5 L691.1,383.8 L692.5,380.6 L693.9,381.7 L695.2,384.0 L696.4,383.3 L697.5,384.1 L698.6,384.7 L699.8,385.7 L701.0,388.2 L702.2,387.9 L703.4,389.9 L704.7,387.6 L706.1,383.4 L707.5,383.8 L708.8,385.4 L710.0,382.6 L711.1,381.1 L712.2,377.9 L713.5,379.2 L714.7,379.2 L716.0,380.0 L717.1,378.7 L718.2,379.1 L719.3,378.5 L720.4,379.2 L721.4,377.9 L722.8,379.0 L724.2,381.3 L725.5,382.3 L726.9,384.7 L728.2,385.1 L729.6,383.7 L731.0,384.1 L732.3,383.8 L733.5,385.5 L734.6,386.5 L735.7,387.0 L737.1,385.8 L738.4,385.5 L739.8,386.1 L741.2,385.5 L742.5,387.6 L743.9,387.0 L745.3,382.7 L746.5,382.1 L747.7,382.9 L748.9,383.1 L750.1,381.8 L751.4,382.0 L752.7,382.2 L754.1,384.3 L755.5,384.0 L756.6,384.4 L757.7,383.8 L758.9,384.8 L760.0,384.1 L761.1,384.2 L762.3,384.7 L763.3,384.6 L764.4,387.0 L765.5,388.3 L766.6,388.6 L767.7,389.2 L769.1,388.4 L770.4,384.8 L771.8,384.0 L773.1,382.6 L774.5,382.2 L775.9,381.3 L777.2,381.8 L778.6,381.3 L779.9,380.0 L781.3,379.1 L782.7,378.1 L784.0,377.9 L785.0,377.4 L786.1,377.2 L787.2,377.7 L788.3,379.0 L789.5,378.6 L790.8,380.7 L792.2,384.0 L793.3,384.8 L794.4,384.8 L795.5,385.1 L796.5,385.1 L797.6,384.7 L799.0,385.2 L800.4,384.8 L801.7,385.4 L803.1,385.1 L804.4,385.3 L805.8,385.7 L807.2,386.4 L808.5,385.1 L809.9,386.1 L811.2,382.0 L812.3,381.4 L813.4,382.5 L814.5,381.5 L815.6,381.1 L816.7,382.0 L818.0,381.7 L819.4,383.3 L820.8,383.8 L821.9,383.3 L822.9,384.4 L824.0,384.1 L825.1,384.1 L826.2,383.0 L827.6,383.3 L828.9,383.8 L830.3,385.4 L831.4,385.6 L832.6,387.4 L833.7,388.4 L835.0,387.2 L836.4,385.1 L837.5,385.1 L838.7,384.8 L839.8,385.4 L841.2,382.9 L842.5,380.9 L843.9,378.3 L845.3,379.2 L846.6,379.9 L848.0,380.0 L849.3,379.8 L850.7,378.7 L852.1,377.5 L853.4,377.0 L854.8,377.9 L856.1,381.0 L857.5,382.7 L858.6,382.7 L859.7,383.6 L860.8,383.7 L861.9,384.8 L862.9,384.7 L864.3,383.1 L865.7,382.7 L867.0,383.1 L868.4,384.0 L869.7,385.4 L870.8,384.9 L871.9,386.4 L873.0,386.0 L874.1,385.6 L875.2,386.1 L876.5,384.4 L877.9,384.1 L879.3,381.6 L881.0,382.0 L882.2,382.0 L883.3,381.5 L884.5,382.6 L885.7,382.3 L886.8,383.0 L888.0,381.2 L889.2,382.0 L890.5,382.6 L891.9,383.4 L893.2,384.2 L894.6,384.5 L896.0,384.0 L897.3,386.5 L898.7,386.3 L900.0,388.8 L901.2,386.8 L902.3,384.9 L903.4,384.0 L904.6,383.4 L905.8,385.0 L907.0,384.2 L908.2,384.0 L909.2,382.5 L910.3,379.3 L911.6,378.8 L913.0,379.6 L914.3,378.6 L915.4,377.7 L916.4,377.0 L917.7,376.5 L919.1,377.5 L920.5,377.0 L921.8,381.1 L923.2,383.4 L924.5,382.6 L925.9,383.6 L927.3,383.4 L928.3,384.0 L929.4,383.5 L930.5,384.2 L931.6,384.1 L932.7,385.1 L934.1,384.0 L935.4,384.0 L936.8,384.4 L938.1,385.9 L939.5,386.5 L940.6,385.6 L941.7,383.6 L942.8,382.0 L943.9,381.5 L944.9,380.6 L946.0,381.3 L947.1,380.6 L948.2,381.1 L949.3,381.1 L950.4,382.0 L951.7,382.6 L953.1,382.1 L954.5,382.0 L955.6,381.2 L956.6,381.4 L957.7,382.0 L958.8,382.4 L959.9,382.4 L961.3,383.5 L962.6,383.1 L964.0,384.7 L965.1,385.4 L966.3,387.8 L967.4,388.8 L968.5,386.6 L969.7,384.3 L970.8,382.7 L972.2,380.1 L973.5,378.3 L974.6,379.2 L975.7,377.8 L976.8,378.2 L977.9,377.7 L979.0,377.9 L980.0,377.6 L981.1,378.4 L982.2,378.5 L983.3,377.1 L984.4,377.2 L985.8,378.2 L987.1,380.9 L988.5,382.0 L989.6,381.7 L990.7,381.6 L991.7,383.6 L992.8,382.9 L993.9,383.4 L995.3,383.6 L996.6,382.3 L998.0,382.0 L999.4,383.8 L1000.7,384.0 L1001.8,384.0 L1002.9,383.4 L1004.0,383.1 L1005.1,384.2 L1006.2,384.0 L1007.5,382.7 L1008.9,381.7 L1010.3,379.3 L1011.5,379.1 L1012.7,380.8 L1014.0,380.9 L1015.2,381.8 L1016.4,382.4 L1017.5,381.4 L1018.6,381.4 L1019.7,381.6 L1020.8,382.2 L1021.9,381.1 L1023.2,381.1 L1024.6,382.7 L1026.0,383.0 L1027.3,384.0 L1028.7,383.8 L1029.8,386.2 L1031.0,386.1 L1032.1,388.1 L1033.4,385.3 L1034.8,384.9 L1036.2,382.0 L1037.5,384.0 L1038.9,384.0 L1040.3,381.0 L1041.6,377.9 L1043.0,377.5 L1044.3,379.7 L1045.7,379.3 L1046.8,378.3 L1048.0,378.6 L1049.1,377.0 L1050.5,377.5 L1051.8,378.3 L1053.2,377.9 L1054.2,379.3 L1055.2,382.0 L1056.4,382.9 L1057.6,382.1 L1058.8,382.8 L1060.0,383.4 L1061.1,383.7 L1062.2,383.4 L1063.4,382.4 L1064.4,383.1 L1065.4,385.1 L1066.5,384.6 L1067.6,384.9 L1068.7,385.2 L1069.8,384.9 L1070.9,385.1 L1072.2,384.2 L1073.6,384.7 L1074.7,382.7 L1075.9,382.2 L1077.0,380.2 L1078.1,381.6 L1079.3,380.5 L1080.4,382.0 L1081.5,382.1 L1082.7,382.5 L1083.8,381.1 L1084.9,382.7 L1086.1,381.2 L1087.2,382.0 L1088.6,383.2 L1089.9,384.0 L1091.3,383.9 L1092.6,383.8 L1094.0,383.4 L1095.2,384.2 L1096.4,385.7 L1097.6,387.3 L1098.8,388.4 L1099.8,386.1 L1100.8,384.0 L1102.2,384.0 L1103.5,383.4 L1104.9,378.6 L1106.2,378.3 L1107.6,378.0 L1109.0,377.9 L1110.0,376.8 L1111.1,377.8 L1112.2,377.3 L1113.3,376.6 L1114.4,377.0 L1115.8,377.3 L1117.1,376.6 L1118.5,378.1 L1119.8,378.6 L1121.2,380.4 L1122.6,382.4 L1123.7,381.8 L1124.9,382.4 L1126.1,381.7 L1127.2,381.8 L1128.4,382.5 L1129.6,381.8 L1130.7,382.7 L1132.1,383.0 L1133.4,383.6 L1134.8,384.0 L1136.2,383.4 L1137.5,384.8 L1138.9,384.7 L1140.3,381.6 L1141.6,380.2 L1142.7,380.8 L1143.8,381.0 L1144.9,380.5 L1146.0,379.7 L1147.1,380.6 L1148.4,381.1 L1149.8,381.3 L1151.1,382.0 L1152.2,381.5 L1153.2,379.3" fill="none" stroke="#6a4cc2" stroke-width="1.2" stroke-linejoin="round"/>
<path d="M56.7,262.3 L58.2,260.8 L59.7,260.4 L60.8,265.0 L61.8,271.8 L62.9,270.8 L64.0,268.8 L65.5,276.9 L67.0,275.5 L68.4,276.9 L69.9,269.6 L71.3,271.8 L72.4,278.5 L73.5,284.9 L75.0,275.7 L76.5,267.4 L77.9,282.0 L79.4,282.7 L80.8,276.2 L82.3,272.5 L83.4,266.1 L84.5,259.6 L85.6,261.3 L86.7,265.9 L88.2,264.5 L89.6,270.1 L91.1,276.2 L92.5,273.7 L94.0,274.0 L95.5,266.7 L96.6,268.3 L97.7,272.5 L98.8,270.4 L99.8,268.8 L101.3,268.1 L102.8,274.7 L104.2,284.5 L105.7,292.2 L106.8,283.4 L107.9,276.9 L109.0,273.4 L110.1,271.8 L111.5,273.2 L113.0,264.5 L114.5,248.4 L115.6,250.3 L116.7,251.3 L117.8,254.6 L118.8,255.0 L120.3,250.1 L121.8,244.7 L123.2,245.9 L124.7,247.7 L126.2,254.7 L127.6,258.6 L128.7,265.9 L129.8,276.2 L130.9,273.3 L132.0,268.1 L133.5,267.8 L134.9,268.8 L136.0,271.4 L137.1,276.2 L138.6,272.7 L140.0,271.8 L141.5,273.2 L142.6,276.3 L143.7,280.5 L144.8,278.1 L145.9,272.6 L147.0,270.4 L148.1,266.7 L149.5,255.7 L151.0,261.3 L152.5,265.9 L153.9,263.0 L155.4,264.8 L156.8,267.4 L158.3,263.9 L159.8,260.1 L161.2,261.6 L162.7,265.9 L164.2,264.9 L165.6,266.7 L167.1,271.8 L168.5,278.9 L170.0,287.8 L171.5,280.4 L172.9,271.8 L174.4,273.2 L175.8,264.6 L177.3,256.4 L178.4,250.7 L179.5,246.2 L180.6,249.4 L181.7,252.0 L183.2,252.3 L184.6,252.8 L185.7,246.6 L186.8,241.8 L187.9,242.4 L189.0,241.1 L190.5,250.6 L191.9,255.6 L193.4,259.3 L194.7,262.7 L195.9,268.0 L197.2,272.0 L198.5,276.2 L200.0,268.1 L201.1,271.5 L202.2,272.5 L203.6,275.1 L205.1,276.2 L206.5,276.6 L208.0,278.3 L209.5,279.5 L210.9,277.6 L212.0,268.0 L213.1,260.8 L214.2,260.5 L215.3,260.8 L216.8,262.4 L218.2,262.3 L219.7,261.9 L221.1,263.7 L222.2,267.0 L223.3,270.3 L224.8,263.7 L225.9,266.3 L227.0,271.8 L228.4,268.1 L229.5,269.4 L230.6,269.6 L232.1,263.7 L233.5,276.2 L234.6,283.2 L235.7,288.6 L237.2,283.5 L238.7,268.1 L240.1,277.6 L241.2,278.9 L242.3,279.8 L243.8,275.4 L245.2,248.4 L246.7,254.2 L248.2,252.5 L249.6,248.4 L250.7,247.1 L251.8,246.9 L253.3,237.4 L254.4,239.9 L255.5,241.1 L256.9,251.6 L258.4,261.5 L259.8,263.0 L261.3,265.1 L262.8,266.7 L264.2,266.5 L265.7,266.7 L266.8,264.8 L267.9,260.8 L269.0,269.5 L270.1,275.4 L271.2,268.8 L272.3,262.3 L273.4,269.7 L274.5,276.2 L275.9,278.3 L277.2,270.4 L278.5,265.8 L279.8,259.1 L281.0,252.0 L282.1,255.8 L283.2,256.4 L284.3,255.3 L285.4,252.0 L286.5,256.8 L287.6,263.0 L288.7,261.5 L289.8,260.8 L290.9,258.1 L292.0,254.2 L293.1,257.1 L294.2,263.0 L295.4,262.9 L296.6,261.9 L297.8,263.0 L298.9,265.1 L300.0,269.6 L301.3,273.8 L302.5,281.6 L303.7,286.4 L305.2,260.1 L306.6,268.1 L308.1,273.2 L309.2,261.4 L310.3,252.0 L311.7,250.6 L313.2,240.3 L314.3,245.4 L315.4,252.0 L316.8,243.3 L318.3,242.6 L319.8,242.5 L321.2,245.9 L322.7,246.9 L324.2,237.4 L325.6,252.0 L327.1,254.7 L328.5,260.1 L329.6,264.7 L330.7,269.6 L331.8,267.2 L332.9,264.5 L334.0,264.6 L335.1,262.3 L336.2,263.3 L337.3,262.3 L338.4,267.1 L339.5,269.6 L340.6,268.1 L341.7,268.1 L342.9,271.7 L344.1,275.5 L345.3,279.8 L346.8,269.7 L348.3,257.2 L349.7,259.0 L351.2,257.9 L352.7,256.0 L354.1,256.4 L355.6,259.4 L357.0,264.5 L358.3,261.9 L359.5,260.2 L360.7,259.3 L361.8,263.7 L362.9,268.1 L364.0,266.2 L365.1,263.7 L366.5,264.8 L368.0,267.4 L369.1,276.4 L370.2,288.6 L371.7,277.0 L373.1,265.9 L374.2,265.5 L375.3,265.9 L376.4,259.9 L377.5,253.5 L378.9,255.0 L380.0,251.7 L381.1,245.5 L382.6,249.8 L383.7,246.4 L384.8,241.8 L386.0,239.9 L387.2,238.3 L388.4,236.0 L389.9,244.7 L391.3,242.5 L392.8,260.1 L393.9,261.0 L395.0,260.8 L396.1,261.9 L397.2,265.9 L398.3,265.0 L399.4,261.5 L400.5,262.1 L401.6,260.8 L402.7,267.5 L403.8,271.8 L405.2,268.1 L406.3,268.7 L407.4,267.4 L408.5,273.3 L409.6,279.8 L410.9,272.5 L412.2,264.7 L413.5,259.4 L414.7,252.0 L415.8,253.6 L416.9,257.9 L418.4,253.9 L419.8,252.8 L421.3,255.9 L422.8,260.8 L424.0,258.8 L425.2,258.3 L426.4,257.9 L427.5,259.7 L428.6,264.5 L430.1,262.5 L431.5,263.7 L433.0,266.7 L434.5,279.8 L435.9,280.5 L437.4,283.5 L438.8,272.7 L440.3,264.5 L441.4,266.2 L442.5,268.8 L444.0,252.3 L445.4,238.9 L446.9,248.4 L448.0,247.4 L449.1,244.0 L450.2,249.5 L451.3,254.2 L452.7,241.1 L453.9,240.2 L455.2,240.8 L456.4,241.8 L457.8,252.6 L459.3,264.5 L460.4,264.4 L461.5,264.0 L462.6,266.7 L463.7,265.9 L465.2,266.8 L466.6,264.5 L468.1,267.3 L469.5,270.3 L471.0,267.3 L472.5,264.5 L473.9,269.3 L475.4,276.9 L476.8,266.5 L478.3,258.6 L479.8,254.5 L481.2,251.3 L482.7,249.5 L484.2,249.1 L485.6,254.2 L487.1,256.4 L488.5,256.4 L490.0,262.3 L491.5,256.4 L492.9,265.9 L494.4,261.2 L495.8,258.6 L497.3,258.2 L498.8,260.8 L500.2,267.7 L501.7,271.8 L503.2,282.7 L504.6,274.1 L506.1,265.2 L507.5,268.8 L509.0,256.0 L510.5,245.5 L511.9,244.9 L513.4,244.0 L514.8,240.3 L516.3,239.6 L517.4,242.3 L518.5,244.7 L519.6,243.3 L520.7,238.9 L521.8,237.5 L522.9,233.8 L524.0,239.5 L525.1,244.0 L526.5,257.2 L527.7,257.7 L528.9,259.3 L530.1,259.9 L531.3,263.1 L532.5,263.7 L533.6,265.7 L534.8,265.6 L536.0,267.4 L537.1,263.6 L538.2,261.5 L539.3,264.0 L540.4,264.5 L541.5,268.6 L542.6,269.6 L543.7,263.0 L544.8,254.2 L546.2,253.4 L547.7,250.6 L549.2,250.9 L550.6,249.1 L552.1,252.4 L553.5,254.2 L555.0,253.0 L556.5,253.5 L557.9,255.0 L559.4,256.4 L560.8,257.1 L562.3,258.6 L563.8,256.7 L565.2,257.9 L566.7,264.8 L568.2,274.7 L569.6,269.6 L571.1,265.9 L572.5,261.5 L574.0,258.6 L575.5,261.5 L576.9,251.2 L578.4,239.6 L579.8,240.7 L581.3,238.9 L582.8,239.1 L584.2,239.6 L585.4,240.0 L586.7,239.2 L587.9,236.7 L589.0,238.5 L590.1,237.4 L591.5,243.9 L593.0,251.3 L594.5,253.3 L595.9,257.2 L597.0,255.5 L598.1,254.7 L599.2,254.0 L600.3,254.2 L601.8,258.3 L603.2,261.5 L604.7,263.6 L606.2,263.0 L607.3,266.6 L608.3,268.1 L609.4,271.2 L610.5,273.2 L612.0,264.7 L613.5,254.2 L614.9,251.8 L616.4,252.0 L617.8,252.9 L619.3,252.8 L620.8,256.3 L622.2,257.2 L623.3,257.9 L624.4,257.6 L625.5,256.5 L626.6,256.4 L627.7,256.5 L628.8,259.5 L629.9,259.2 L631.0,260.8 L632.5,263.6 L633.9,264.5 L635.4,274.0 L636.8,280.5 L638.3,276.6 L639.8,273.2 L641.2,265.2 L642.3,266.7 L643.4,268.8 L644.9,246.2 L646.0,248.4 L647.1,247.7 L648.5,246.5 L650.0,244.0 L651.5,243.3 L652.9,244.7 L654.4,232.3 L655.5,232.6 L656.6,235.2 L657.8,240.2 L659.0,248.7 L660.2,253.5 L661.7,261.5 L663.2,262.9 L664.6,262.3 L666.1,263.3 L667.5,266.7 L669.0,270.3 L670.5,271.8 L671.9,269.3 L673.4,263.7 L674.6,267.4 L675.8,269.6 L677.0,273.2 L678.5,261.7 L680.0,249.8 L681.1,251.6 L682.2,255.7 L683.6,251.9 L685.1,251.3 L686.5,256.1 L688.0,257.9 L689.1,256.2 L690.2,253.5 L691.3,249.2 L692.4,244.7 L693.5,253.4 L694.6,259.3 L696.0,260.1 L697.1,259.9 L698.2,260.1 L699.3,267.8 L700.4,273.2 L701.8,279.8 L702.9,283.0 L704.0,284.2 L705.5,254.2 L707.0,256.4 L708.4,266.7 L709.9,252.0 L711.0,242.3 L712.1,234.5 L713.5,235.2 L715.0,246.9 L716.5,239.6 L717.9,244.7 L719.0,239.6 L720.1,236.0 L721.2,234.9 L722.3,235.2 L723.4,241.0 L724.5,248.4 L725.6,254.9 L726.7,260.8 L727.8,260.8 L728.9,262.3 L730.0,258.7 L731.1,255.7 L732.5,255.6 L734.0,257.9 L735.1,266.5 L736.2,272.5 L737.3,270.2 L738.4,268.8 L739.8,264.5 L741.3,271.8 L742.4,271.6 L743.5,271.8 L745.0,253.5 L746.1,255.2 L747.2,256.4 L748.3,255.2 L749.3,251.3 L750.4,250.3 L751.5,249.8 L753.0,252.8 L754.1,257.8 L755.2,260.1 L756.3,257.9 L757.4,255.7 L758.5,259.4 L759.6,263.0 L761.0,260.9 L762.5,258.6 L763.6,259.3 L764.7,263.0 L765.9,268.4 L767.1,273.2 L768.3,279.8 L769.4,266.9 L770.5,257.2 L771.6,263.2 L772.7,267.4 L774.2,256.5 L775.7,247.7 L776.8,252.0 L777.8,256.4 L778.9,250.9 L780.0,244.0 L781.1,242.7 L782.2,241.1 L783.7,246.9 L785.2,230.8 L786.4,231.3 L787.6,232.9 L788.8,233.8 L790.0,242.7 L791.2,252.2 L792.5,260.1 L793.9,258.5 L795.4,259.3 L796.8,262.5 L798.3,265.2 L799.8,254.2 L800.9,260.0 L802.0,267.4 L803.1,263.4 L804.2,260.8 L805.4,264.4 L806.6,266.2 L807.8,268.8 L809.3,263.0 L810.7,269.6 L812.0,263.7 L813.2,258.2 L814.4,251.3 L815.5,251.2 L816.6,248.4 L817.7,253.7 L818.8,259.3 L820.2,258.6 L821.7,257.2 L822.8,255.3 L823.9,253.5 L825.0,255.7 L826.1,257.9 L827.5,254.2 L829.0,269.6 L830.1,265.1 L831.2,259.3 L832.7,268.3 L834.1,277.6 L835.6,268.2 L837.0,258.6 L838.5,268.1 L839.6,267.3 L840.7,266.7 L842.2,254.2 L843.3,247.6 L844.3,238.2 L845.4,243.2 L846.5,246.9 L847.6,244.1 L848.7,238.9 L850.2,237.0 L851.7,232.3 L853.1,231.9 L854.6,233.0 L856.0,238.9 L857.5,255.0 L858.9,257.7 L860.4,260.1 L861.8,263.3 L863.3,263.7 L864.8,254.2 L865.9,260.4 L867.0,264.5 L868.4,258.9 L869.9,255.7 L871.0,257.6 L872.1,261.7 L873.2,263.6 L874.3,268.1 L875.4,261.4 L876.5,256.4 L877.9,250.7 L879.4,247.7 L880.5,250.0 L881.6,251.3 L882.7,251.1 L883.8,249.1 L885.2,257.9 L886.7,250.6 L887.8,253.3 L888.9,253.5 L890.3,248.4 L891.8,260.1 L893.3,255.7 L894.4,257.1 L895.5,260.8 L896.6,263.0 L897.7,263.7 L898.8,272.3 L899.8,279.8 L901.3,267.7 L902.8,257.9 L903.9,258.0 L905.0,255.7 L906.1,261.2 L907.2,263.7 L908.3,252.6 L909.3,243.3 L910.4,241.1 L911.5,236.0 L912.6,239.3 L913.7,243.3 L914.8,236.3 L915.9,229.4 L917.0,235.0 L918.1,237.4 L919.2,234.1 L920.3,228.7 L921.4,236.0 L922.5,245.5 L924.0,263.7 L925.4,247.7 L926.5,254.7 L927.6,262.3 L928.7,259.4 L929.8,256.4 L930.9,257.7 L932.0,260.1 L933.1,262.8 L934.2,267.4 L935.3,262.8 L936.4,259.3 L937.8,265.9 L939.3,271.0 L940.8,266.9 L942.2,265.9 L943.3,256.2 L944.4,246.2 L945.5,247.5 L946.6,249.1 L948.1,244.0 L949.5,260.8 L950.6,253.4 L951.7,249.1 L952.8,251.5 L953.9,255.0 L955.0,251.7 L956.1,247.7 L957.6,257.9 L958.7,255.0 L959.8,252.0 L960.9,252.5 L962.0,255.7 L963.4,266.4 L964.9,274.0 L966.3,277.8 L967.8,279.8 L968.9,268.9 L970.0,255.0 L971.1,255.9 L972.2,259.3 L973.7,238.2 L974.9,236.4 L976.1,234.7 L977.3,235.2 L978.8,243.3 L980.2,233.0 L981.3,239.0 L982.4,243.3 L983.9,232.3 L985.3,233.4 L986.8,236.0 L987.9,242.8 L989.0,252.0 L990.3,253.3 L991.6,256.3 L992.8,257.4 L994.1,257.9 L995.3,253.7 L996.6,249.9 L997.8,247.7 L999.2,257.2 L1000.7,259.6 L1002.2,259.3 L1003.6,256.4 L1004.7,259.9 L1005.8,263.0 L1007.3,259.3 L1008.7,254.2 L1010.2,240.3 L1011.7,240.3 L1013.1,247.7 L1014.6,249.6 L1016.0,254.2 L1017.1,251.4 L1018.2,251.3 L1019.7,252.0 L1020.8,249.4 L1021.8,245.5 L1022.9,250.7 L1024.0,256.4 L1025.5,249.1 L1026.6,251.4 L1027.7,256.4 L1028.8,258.9 L1029.9,258.6 L1031.3,276.2 L1032.4,275.1 L1033.5,273.2 L1034.6,262.9 L1035.7,250.6 L1036.8,254.4 L1037.9,260.8 L1039.4,248.1 L1040.8,233.0 L1042.3,236.0 L1043.4,233.8 L1044.5,234.5 L1046.0,243.3 L1047.4,238.2 L1048.9,230.8 L1050.0,234.0 L1051.1,237.4 L1052.2,235.4 L1053.3,234.5 L1054.4,243.8 L1055.5,252.8 L1056.7,256.3 L1057.9,256.4 L1059.1,259.3 L1060.2,258.2 L1061.3,259.3 L1062.4,255.8 L1063.5,252.0 L1064.6,257.0 L1065.7,263.7 L1067.2,261.4 L1068.6,261.5 L1070.1,262.3 L1071.5,265.2 L1073.0,261.2 L1074.5,260.1 L1075.9,251.1 L1077.4,244.0 L1078.5,247.1 L1079.6,251.3 L1080.7,250.7 L1081.8,251.3 L1082.9,254.0 L1084.0,255.0 L1085.4,252.1 L1086.9,250.6 L1088.3,257.2 L1089.8,263.7 L1090.9,259.0 L1092.0,256.4 L1093.1,256.7 L1094.2,257.9 L1095.3,259.6 L1096.4,264.5 L1097.8,271.7 L1099.3,280.5 L1100.8,259.3 L1101.9,255.6 L1103.0,255.0 L1104.4,261.5 L1105.9,249.1 L1107.3,235.2 L1108.4,235.8 L1109.5,236.0 L1110.6,233.9 L1111.7,233.8 L1113.2,239.6 L1114.7,228.7 L1116.1,230.0 L1117.6,231.6 L1118.7,237.4 L1119.8,240.3 L1120.9,246.0 L1122.0,254.2 L1123.1,256.3 L1124.2,256.4 L1125.6,255.1 L1127.1,254.2 L1128.5,253.8 L1130.0,253.5 L1131.5,257.9 L1132.9,260.1 L1134.0,258.3 L1135.1,257.2 L1136.6,263.0 L1137.7,261.9 L1138.8,260.8 L1140.2,262.3 L1141.3,253.7 L1142.4,244.0 L1143.5,247.0 L1144.6,246.9 L1145.7,246.4 L1146.8,246.9 L1147.9,249.8 L1149.0,250.6 L1150.5,253.4 L1151.9,255.0 L1153.4,242.5" fill="none" stroke="#cd664c" stroke-width="1.15" stroke-linejoin="round"/>
<line x1="528" y1="188" x2="528" y2="424.5" stroke="#111" stroke-width="2"/>
<text x="0" y="0" transform="translate(10.4 336) rotate(-90)" text-anchor="middle" style="font-size:11.5px;font-weight:bold;fill:#111;letter-spacing:0.3px">Battery</text>
</svg>

<div class="a tt ttb" style="top:209px">16/09/2025 15:21:41</div>
<div class="a tt ttb" style="top:225px">06:22:500</div>
<div class="a tt tts" style="top:241px">Power</div><div class="a tts" style="left:574.5px;top:241px">:</div><div class="a tts" style="left:581px;top:241px">7378mW</div>
<div class="a tt tts" style="top:256px">FPower</div><div class="a tts" style="left:574px;top:256px">:</div><div class="a tts" style="left:581px;top:256px">143.19mW</div>
<div class="a tt tts" style="top:270px">Voltage</div><div class="a tts" style="left:573.5px;top:270px">:</div><div class="a tts" style="left:581px;top:270px">4104mV</div>
<div class="a tt tts" style="top:285px">Current</div><div class="a tts" style="left:574.5px;top:285px">:</div><div class="a tts" style="left:581px;top:285px">1798mA</div>

<div class="a sl"></div>
<div class="a hd" style="left:56px"><i style="left:5px"></i><i style="left:8px"></i><i style="left:10.9px"></i></div>
<div class="a hd" style="left:1134px"><i style="left:5px"></i><i style="left:8px"></i><i style="left:10.9px"></i></div>

<div class="a sw" style="left:453px;background:#cc6344"></div>
<div class="a leg" style="left:477px">Power</div>
<div class="a sw" style="left:527px;background:#b23fab"></div>
<div class="a leg" style="left:551px">FPower</div>
<div class="a sw" style="left:607px;background:#4c8fdc"></div>
<div class="a leg" style="left:631px">Voltage</div>
<div class="a sw" style="left:689px;background:#6f48c6"></div>
<div class="a leg" style="left:712px">Current</div>
<div class="a hide">全隐藏</div>
</body></html>
